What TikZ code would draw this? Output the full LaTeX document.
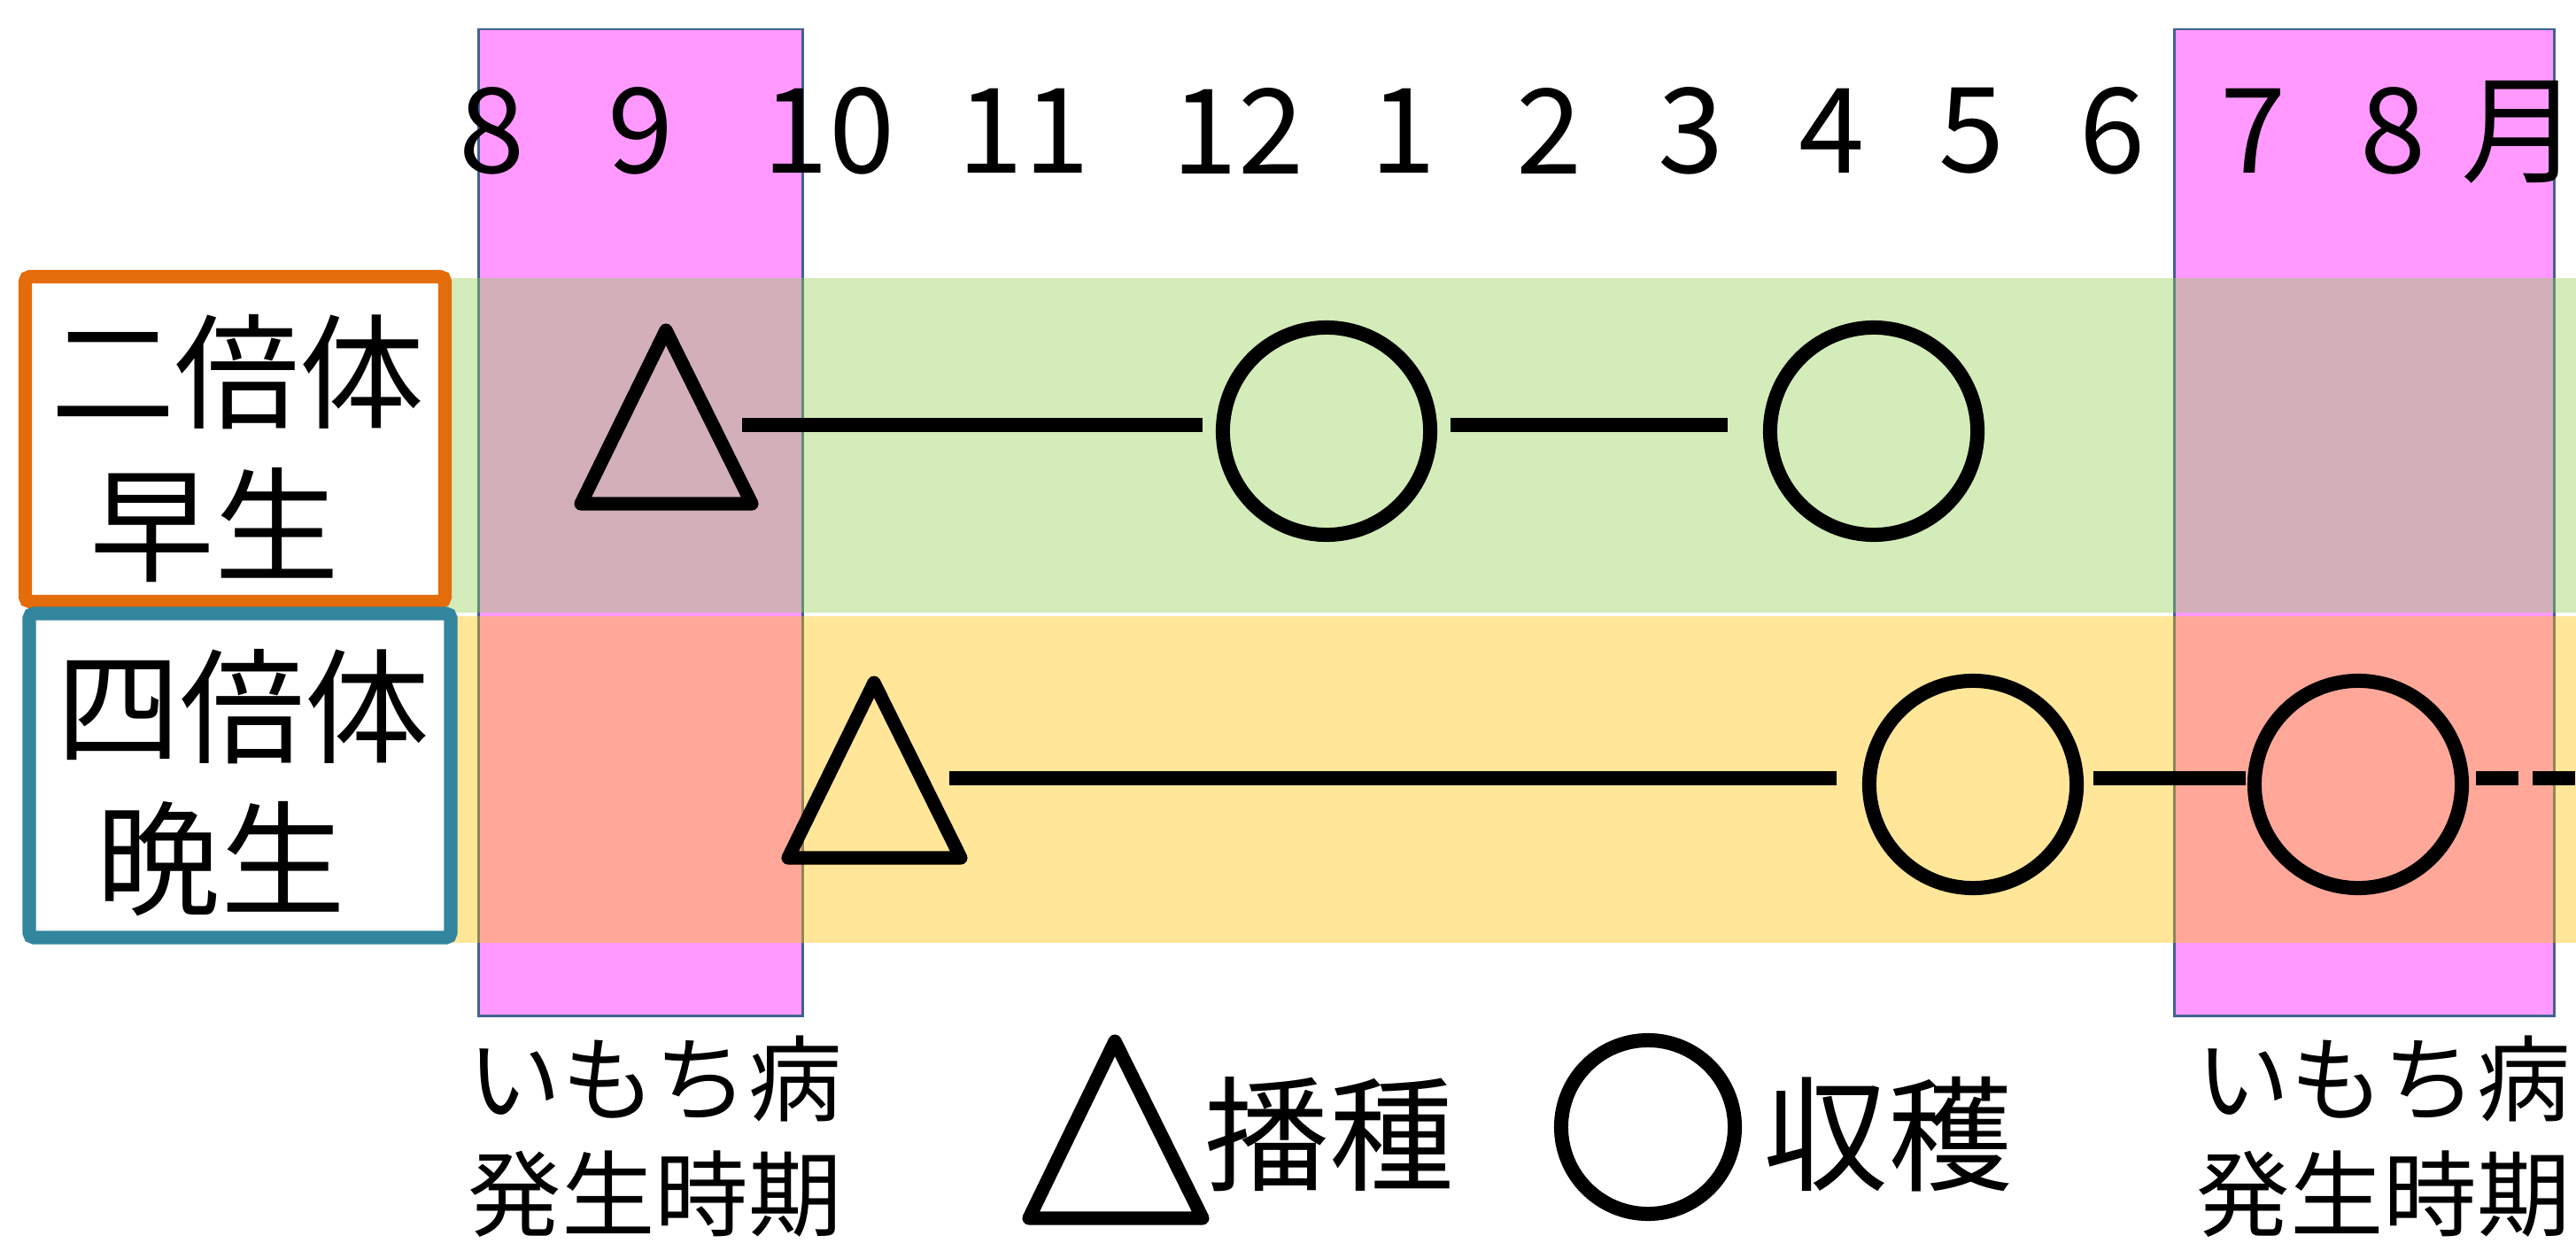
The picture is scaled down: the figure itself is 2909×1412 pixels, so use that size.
\documentclass[tikz,border=0pt]{standalone}
\usepackage{fontspec}
\setmainfont{Noto Sans CJK JP}
\definecolor{pinkc}{HTML}{FF99FF}
\definecolor{pinkb}{HTML}{41628F}
\definecolor{greenc}{HTML}{92D050}
\definecolor{yellowc}{HTML}{FFC000}
\definecolor{orangec}{HTML}{E46C0A}
\definecolor{tealc}{HTML}{31859C}
\tikzset{
 pinkcol/.style={fill=pinkc, draw=pinkb, line width=0.85pt},
 band/.style={fill opacity=0.4},
 labbox/.style={fill=white, line width=4.3pt, rounded corners=1.5pt},
 conn/.style={line width=4.55pt},
 tri/.style={line width=4.3pt, line join=round},
 ring/.style={circle, draw, line width=4.55pt, inner sep=0pt, minimum size=#1},
 month/.style={font=\fontsize{38pt}{44pt}\selectfont, inner sep=0pt},
 jlab/.style={font=\fontsize{40pt}{48pt}\selectfont, inner sep=0pt},
 dis/.style={font=\fontsize{30pt}{36pt}\selectfont, inner sep=0pt, anchor=west},
}
\begin{document}
\begin{tikzpicture}[x=0.01cm, y=-0.01cm]
\useasboundingbox (0,0) rectangle (2909,1412);
% blast disease periods
\path[pinkcol] (540,33) rectangle (906,1147);
\path[pinkcol] (2455,33) rectangle (2884,1147);
% bands
\fill[greenc, band] (500,314) rectangle (2909,692);
\fill[yellowc, band] (500,696) rectangle (2909,1065);
% label boxes
\draw[labbox, draw=orangec] (28.5,312.5) rectangle (502.5,679.5);
\draw[labbox, draw=tealc] (33,693) rectangle (509,1059);
\node[jlab] (n1a) at (268,420) {二倍体};
\node[jlab] (n1b) at (242,593) {早生};
\node[jlab] (n2a) at (274,798) {四倍体};
\node[jlab] (n2b) at (249,970) {晩生};
% months
\node[month] (m8)  at (556,148) {8};
\node[month] (m9)  at (724,148) {9};
\node[month] (m10) at (936,148) {10};
\node[month] (m11) at (1156,148) {11};
\node[month] (m12) at (1398,148) {12};
\node[month] (m1)  at (1585,148) {1};
\node[month] (m2)  at (1750,148) {2};
\node[month] (m3)  at (1910,148) {3};
\node[month] (m4)  at (2069,148) {4};
\node[month] (m5)  at (2227,148) {5};
\node[month] (m6)  at (2386,148) {6};
\node[month] (m7)  at (2545,148) {7};
\node[month] (m8b) at (2703,148) {8};
\node[month] (mm)  at (2846,149) {月};
% row 1
\coordinate (t1) at (752,373);
\draw[tri] (t1) -- ++(97,196) -- ++(-193,0) -- cycle;
\node[ring=2.34cm] (c1) at (1498,487) {};
\node[ring=2.34cm] (c2) at (2116,487) {};
\coordinate (a1) at (838,480);
\coordinate (b1) at (1358,480);
\coordinate (a2) at (1638,480);
\coordinate (b2) at (1951,480);
\draw[conn] (a1) -- (b1);
\draw[conn] (a2) -- (b2);
% row 2
\coordinate (t2) at (987,771);
\draw[tri] (t2) -- ++(98,198) -- ++(-195,0) -- cycle;
\node[ring=2.34cm] (c3) at (2228,886) {};
\node[ring=2.34cm] (c4) at (2663,886) {};
\coordinate (a3) at (1072,879);
\coordinate (b3) at (2074,879);
\coordinate (a4) at (2364,879);
\coordinate (b4) at (2536,879);
\coordinate (a5) at (2796,879);
\coordinate (b5) at (2909,879);
\draw[conn] (a3) -- (b3);
\draw[conn] (a4) -- (b4);
\draw[conn, dash pattern=on 13.66pt off 4.55pt] (a5) -- (b5);
% captions
\node[dis] (d1a) at (528,1218) {いもち病};
\node[dis] (d1b) at (528,1349) {発生時期};
\node[dis] (d2a) at (2480,1218) {いもち病};
\node[dis] (d2b) at (2480,1349) {発生時期};
% legend
\coordinate (t3) at (1259,1176);
\draw[tri] (t3) -- ++(99,200) -- ++(-196,0) -- cycle;
\node[jlab] (lg1) at (1501,1281) {播種};
\node[ring=1.96cm] (c5) at (1861,1273) {};
\node[jlab] (lg2) at (2132,1281) {収穫};
\end{tikzpicture}
\end{document}
